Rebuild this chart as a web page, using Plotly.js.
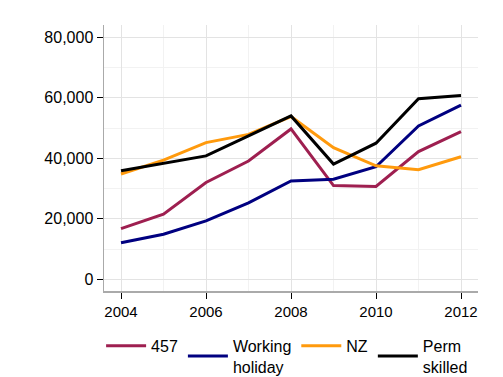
<!DOCTYPE html>
<html>
<head>
<meta charset="utf-8">
<script src="https://cdn.plot.ly/plotly-3.0.1.min.js"></script>
<style>html,body{margin:0;padding:0;background:#fff;}#chart{width:503px;height:377px;}</style>
</head>
<body>
<div id="chart"></div>
<script>
const years = [2004, 2005, 2006, 2007, 2008, 2009, 2010, 2011, 2012];
const seriesNames = ["457", "Working<br>holiday", "NZ", "Perm<br>skilled"];
const v457 = [16750, 21500, 32000, 39100, 49700, 31000, 30700, 42200, 48800];
const workingHoliday = [12100, 14900, 19300, 25300, 32500, 33100, 37200, 50700, 57600];
const nz = [34800, 39400, 45200, 47900, 53800, 43500, 37500, 36200, 40500];
const permSkilled = [35900, 38400, 40800, 47400, 54000, 38100, 45000, 59700, 60800];
const colors = ["#9e1f50", "#000080", "#ff9a0d", "#000000"];

const allSeries = [v457, workingHoliday, nz, permSkilled];
const traces = allSeries.map((vals, i) => ({
  x: years, y: vals, name: seriesNames[i], type: "scatter", mode: "lines",
  line: {color: colors[i], width: 3}
}));

const layout = {
  width: 503, height: 377,
  margin: {l: 104, r: 25, t: 25, b: 86},
  paper_bgcolor: "#fff", plot_bgcolor: "#fff",
  font: {family: "Liberation Sans, Arial, sans-serif", size: 15, color: "#000"},
  showlegend: true,
  legend: {orientation: "h", xref: "container", x: 0.201, xanchor: "left",
    yref: "container", y: 0.055, yanchor: "middle",
    font: {size: 16}, itemwidth: 40, tracegroupgap: 0},
  xaxis: {range: [2003.6, 2012.4], tickmode: "linear", tick0: 2004, dtick: 2,
    ticks: "outside", ticklen: 6, tickcolor: "#000", tickwidth: 1,
    tickfont: {size: 15},
    showline: true, linecolor: "#aaaaaa", linewidth: 1.5,
    showgrid: true, gridcolor: "#e3e3e3", gridwidth: 1, zeroline: false,
    minor: {dtick: 1, tick0: 2004, showgrid: true, gridcolor: "#f2f2f2", ticks: ""}},
  yaxis: {range: [-3870, 84070], tickmode: "linear", tick0: 0, dtick: 20000,
    tickformat: ",d", ticks: "outside", ticklen: 6, tickcolor: "#000", tickwidth: 1,
    tickfont: {size: 16},
    showline: true, linecolor: "#aaaaaa", linewidth: 1.5,
    showgrid: true, gridcolor: "#e3e3e3", gridwidth: 1, zeroline: false,
    minor: {dtick: 10000, tick0: 0, showgrid: true, gridcolor: "#f2f2f2", ticks: ""}}
};
Plotly.newPlot("chart", traces, layout, {displayModeBar: false, staticPlot: true});
</script>
</body>
</html>
